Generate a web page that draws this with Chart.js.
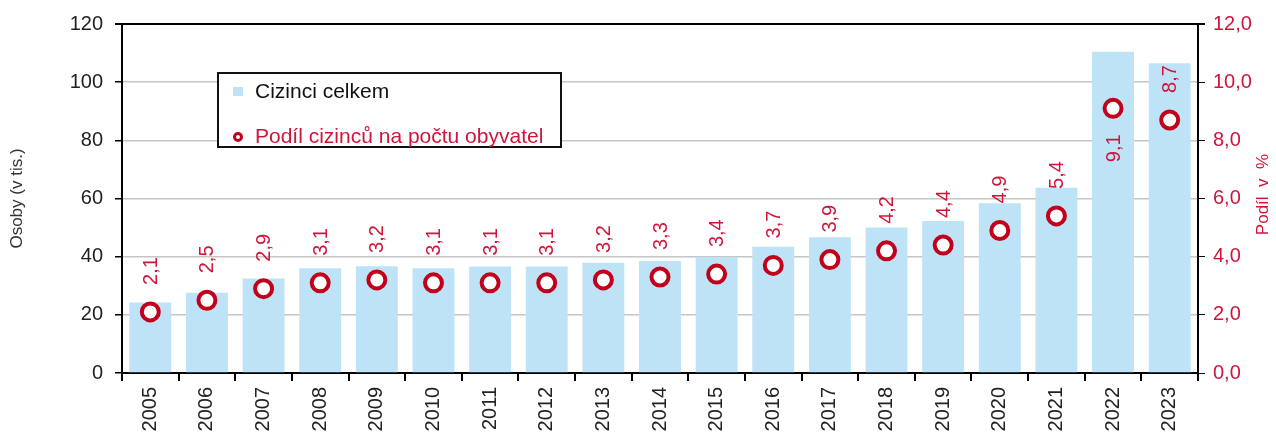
<!DOCTYPE html>
<html>
<head>
<meta charset="utf-8">
<script src="https://cdn.jsdelivr.net/npm/chart.js@4.4.1/dist/chart.umd.min.js"></script>
<style>
  html, body { margin: 0; padding: 0; background: #fff; }
</style>
</head>
<body>
<canvas id="graf" width="1276" height="432"></canvas>
<script>
// data
const roky = ['2005','2006','2007','2008','2009','2010','2011','2012','2013','2014','2015','2016','2017','2018','2019','2020','2021','2022','2023'];
const cizinci = [24.2, 27.6, 32.5, 36.0, 36.7, 36.0, 36.6, 36.6, 37.9, 38.5, 39.9, 43.4, 46.7, 50.0, 52.3, 58.4, 63.7, 110.5, 106.5];
const podil = [2.1, 2.5, 2.9, 3.1, 3.2, 3.1, 3.1, 3.1, 3.2, 3.3, 3.4, 3.7, 3.9, 4.2, 4.4, 4.9, 5.4, 9.1, 8.7];
const osobyTicks = [0, 20, 40, 60, 80, 100, 120];
const podilTicks = [0, 2, 4, 6, 8, 10, 12];

const MODRA = '#bfe3f6';
const CERVENA = '#c2001c';
const TEXT_CERVENY = '#d0143c';
const FONT = "'Liberation Sans', Arial, sans-serif";

Chart.defaults.font.family = FONT;

const carka = v => v.toFixed(1).replace('.', ',');

// popisky, legenda, horní rámeček a pravý titulek
const doplnky = {
    id: 'doplnky',
    afterDraw(chart) {
        const ctx = chart.ctx;
        const area = chart.chartArea;
        ctx.save();

        // horní rámeček
        ctx.strokeStyle = '#000';
        ctx.lineWidth = 2;
        ctx.beginPath();
        ctx.moveTo(area.left - 7, area.top);
        ctx.lineTo(area.right + 7, area.top);
        ctx.stroke();

        // hodnoty podílu
        const meta = chart.getDatasetMeta(1);
        const maxIdx = podil.indexOf(Math.max(...podil));
        ctx.font = '20px ' + FONT;
        ctx.fillStyle = TEXT_CERVENY;
        ctx.textBaseline = 'middle';
        meta.data.forEach((pt, i) => {
            ctx.save();
            if (i === maxIdx) {
                ctx.translate(pt.x, pt.y + 26);
                ctx.rotate(-Math.PI / 2);
                ctx.textAlign = 'right';
            } else {
                ctx.translate(pt.x, pt.y - 27);
                ctx.rotate(-Math.PI / 2);
                ctx.textAlign = 'left';
            }
            ctx.fillText(carka(podil[i]), 0, 1);
            ctx.restore();
        });

        // pravý titulek
        ctx.save();
        ctx.translate(1263, (area.top + area.bottom) / 2 - 4);
        ctx.rotate(-Math.PI / 2);
        ctx.textAlign = 'center';
        ctx.font = '17px ' + FONT;
        ctx.fillStyle = TEXT_CERVENY;
        ctx.fillText('Podíl  v  %', 0, 0);
        ctx.restore();

        // legenda
        ctx.fillStyle = '#fff';
        ctx.fillRect(218, 73, 343, 74);
        ctx.strokeStyle = '#111';
        ctx.lineWidth = 2;
        ctx.strokeRect(218, 73, 343, 74);

        ctx.fillStyle = MODRA;
        ctx.fillRect(233, 87, 10, 9);
        ctx.font = '21px ' + FONT;
        ctx.textAlign = 'left';
        ctx.fillStyle = '#111';
        ctx.fillText(chart.data.datasets[0].label, 255, 92);

        ctx.beginPath();
        ctx.arc(238, 137, 3.5, 0, Math.PI * 2);
        ctx.fillStyle = '#fff';
        ctx.fill();
        ctx.lineWidth = 3;
        ctx.strokeStyle = CERVENA;
        ctx.stroke();
        ctx.fillStyle = TEXT_CERVENY;
        ctx.fillText(chart.data.datasets[1].label, 255, 137);

        ctx.restore();
    }
};

const graf = new Chart(document.getElementById('graf').getContext('2d'), {
    type: 'bar',
    data: {
        labels: roky,
        datasets: [{
            label: 'Cizinci celkem',
            data: cizinci,
            backgroundColor: MODRA,
            barPercentage: 0.74,
            categoryPercentage: 1,
            yAxisID: 'y',
            order: 2
        }, {
            type: 'line',
            label: 'Podíl cizinců na počtu obyvatel',
            data: podil,
            yAxisID: 'y1',
            showLine: false,
            pointRadius: 8.5,
            pointBorderWidth: 4,
            pointBackgroundColor: '#fff',
            pointBorderColor: CERVENA,
            order: 1
        }]
    },
    options: {
        responsive: false,
        animation: false,
        layout: {
            padding: { top: 23, right: 0, bottom: 0, left: 0 }
        },
        plugins: {
            legend: { display: false },
            tooltip: { enabled: false }
        },
        scales: {
            x: {
                afterFit: s => { s.height = 59; },
                grid: {
                    offset: true,
                    drawOnChartArea: false,
                    tickLength: 8,
                    tickColor: '#000',
                    lineWidth: 2
                },
                border: { color: '#000', width: 2 },
                ticks: {
                    autoSkip: false,
                    minRotation: 90,
                    maxRotation: 90,
                    padding: 6,
                    color: '#222',
                    font: { size: 20 }
                }
            },
            y: {
                min: 0,
                max: 120,
                afterFit: s => { s.width = 122; },
                afterBuildTicks: s => { s.ticks = osobyTicks.map(v => ({ value: v })); },
                grid: {
                    color: c => (c.tick && (c.tick.value === 0 || c.tick.value === 120)) ? 'rgba(0,0,0,0)' : '#c6c6c6',
                    lineWidth: 1.5,
                    tickColor: '#000',
                    tickLength: 7
                },
                border: { color: '#000', width: 2 },
                ticks: {
                    padding: 12,
                    color: '#222',
                    font: { size: 20 }
                },
                title: {
                    display: true,
                    text: 'Osoby (v tis.)',
                    color: '#333',
                    font: { size: 17 },
                    padding: { top: 7, bottom: 0 }
                }
            },
            y1: {
                position: 'right',
                min: 0,
                max: 12,
                afterFit: s => { s.width = 78; },
                afterBuildTicks: s => { s.ticks = podilTicks.map(v => ({ value: v })); },
                grid: {
                    drawOnChartArea: false,
                    tickColor: '#000',
                    tickLength: 7
                },
                border: { color: '#000', width: 2 },
                ticks: {
                    padding: 8,
                    color: TEXT_CERVENY,
                    font: { size: 20 },
                    callback: v => carka(v)
                }
            }
        }
    },
    plugins: [doplnky]
});
</script>
</body>
</html>
